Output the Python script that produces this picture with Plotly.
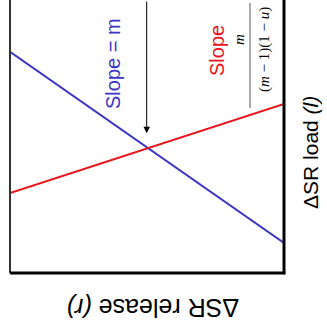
import plotly.graph_objects as go

# Data
release = [0, 10]
load_blue = [8.1, 1.1]   # Slope = m
load_red = [2.93, 6.19]  # Slope m/((m-1)(1-u))

W, H = 327, 328
L, R, T, B = 10, 43, 0, 55
PW, PH = W - L - R, H - T - B

def px(x):
    return (x - L) / PW

def py(y):
    return (H - B - y) / PH

# intersection from the data
sb = (load_blue[1] - load_blue[0]) / (release[1] - release[0])
sr = (load_red[1] - load_red[0]) / (release[1] - release[0])
xi = (load_red[0] - load_blue[0]) / (sb - sr)
yi = load_blue[0] + sb * xi

fig = go.Figure()
fig.add_trace(go.Scatter(x=release, y=load_blue, mode="lines",
                         line=dict(color="#3b35c4", width=2), hoverinfo="skip"))
fig.add_trace(go.Scatter(x=release, y=load_red, mode="lines",
                         line=dict(color="#e8141c", width=2), hoverinfo="skip"))

fig.add_annotation(x=xi - 0.05, y=yi, xref="x", yref="y", ax=xi - 0.05, ay=10,
                   axref="x", ayref="y", showarrow=True, arrowhead=2,
                   arrowsize=1.3, arrowwidth=1, arrowcolor="black",
                   standoff=15, text="")

font_sans = "Arial, Liberation Sans, sans-serif"
font_serif = "Liberation Serif, DejaVu Serif, serif"

def label(x, y, text, angle, family, size, color):
    fig.add_annotation(x=px(x), y=py(y), xref="paper", yref="paper",
                       xanchor="center", yanchor="middle",
                       text=text, textangle=angle, showarrow=False,
                       font=dict(family=family, size=size, color=color))

label(113, 64, "Slope = m", -90, font_sans, 20, "#3b35c4")
label(217, 51, "Slope", -90, font_sans, 20, "#e8141c")
label(239, 40, "<i>m</i>", -90, font_serif, 15, "black")
label(264, 50, "(<i>m</i> − 1)(1 − <i>u</i>)", -90, font_serif, 15, "black")
fig.add_shape(type="line", xref="paper", yref="paper",
              x0=px(250), x1=px(250), y0=py(3), y1=py(108),
              line=dict(color="#555555", width=1))

label(310, 153, "ΔSR load <i>(l)</i>", -90, font_sans, 21, "black")
label(153, 308, "ΔSR release <i>(r)</i>", 180, font_sans, 25, "black")

# frame
fig.add_shape(type="line", xref="paper", yref="paper", x0=0, x1=0, y0=0, y1=1,
              line=dict(color="#333333", width=2))
fig.add_shape(type="line", xref="paper", yref="paper", x0=1, x1=1, y0=-0.005, y1=1,
              line=dict(color="black", width=3))
fig.add_shape(type="line", xref="paper", yref="paper", x0=0, x1=1.005, y0=0, y1=0,
              line=dict(color="black", width=3))

fig.update_xaxes(range=[0, 10], visible=False)
fig.update_yaxes(range=[0, 10], visible=False)
fig.update_layout(width=W, height=H, margin=dict(l=L, r=R, t=T, b=B),
                  paper_bgcolor="white", plot_bgcolor="white", showlegend=False)

fig.write_html("out.html", config={"displayModeBar": False},
               post_script="document.body.style.margin='0px';")
